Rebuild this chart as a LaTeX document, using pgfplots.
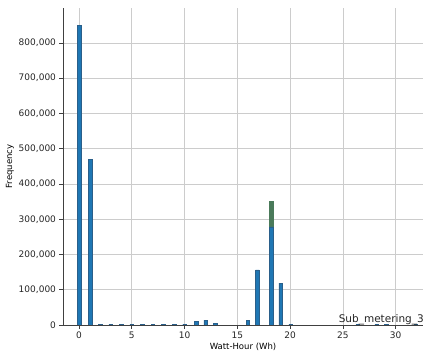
\documentclass[border=0pt]{standalone}
\usepackage{pgfplots}
\pgfplotsset{compat=1.18}
\usepackage{fontspec}
\setmainfont{DejaVu Sans}
\definecolor{mplblue}{HTML}{1F77B4}
\definecolor{edgeblue}{HTML}{2A5F8A}
\definecolor{mplgreen}{HTML}{4A7A5A}
\begin{document}
\begin{tikzpicture}
\useasboundingbox (-63pt,-31pt) rectangle (360pt,325pt);
\begin{axis}[
  at={(0pt,0pt)}, anchor=south west,
  scale only axis, width=360pt, height=317pt,
  xmin=-1.52, xmax=32.6, ymin=0, ymax=899000,
  axis x line*=bottom, axis y line*=left,
  axis line style={black!75, line width=0.8pt},
  xtick={0,5,10,15,20,25,30},
  ytick={0,100000,200000,300000,400000,500000,600000,700000,800000},
  scaled y ticks=false,
  /pgf/number format/.cd, fixed, 1000 sep={,}, assume math mode=true,
  /pgfplots/.cd,
  tick label style={font=\fontsize{9}{10}\selectfont, text=black!85},
  tick align=outside, major tick length=3.5pt,
  tick style={black!75, line width=0.6pt},
  grid=major, grid style={gray!40, line width=0.6pt},
  xlabel={Watt-Hour (Wh)}, ylabel={Frequency},
  label style={font=\fontsize{8.5}{10}\selectfont},
  xlabel style={yshift=3pt},
  ylabel style={yshift=-2pt},
  ybar, bar width=3.6pt, bar shift=0pt,
  clip=true,
]
\addplot[fill=mplgreen, draw=mplgreen] coordinates {(18.2,352000)};
\addplot[fill=mplblue, draw=edgeblue, line width=0.4pt] coordinates {
(0.03,850000) (1.04,470000)
(2.0,1500) (3.0,1500) (4.0,1500) (5.0,1500) (6.0,1500) (7.0,1500) (8.0,1500) (9.0,1500) (10.0,1500)
(11.1,11000) (12.0,14000) (12.9,4500)
(16.0,14000) (16.9,156000) (18.2,278000) (19.1,119000) (20.05,2500)
(26.4,1200) (28.2,1500) (29.1,1500) (31.9,1200)
};
\node[anchor=base west, font=\fontsize{10.5}{12}\selectfont, text=black!85, inner sep=0pt] at (axis cs:24.6,8500) {Sub\_metering\_3};
\end{axis}
\end{tikzpicture}
\end{document}
